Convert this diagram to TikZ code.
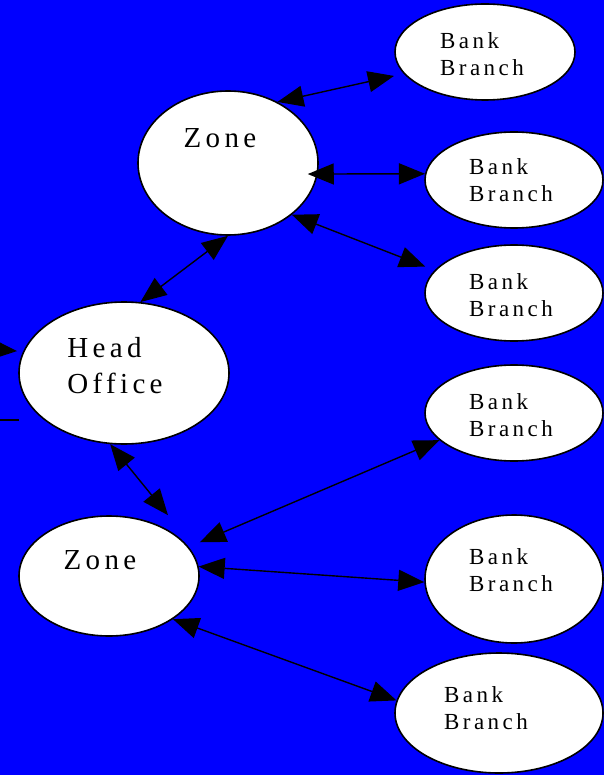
\documentclass[tikz,border=0pt]{standalone}
\usepackage{fontspec}
\usepackage{tikz}
\usetikzlibrary{shapes.geometric}
\usetikzlibrary{arrows.meta}
\newfontfamily\sitefont[LetterSpace=15]{Liberation Serif}
\tikzset{
  site/.style={ellipse, draw=black, fill=white, line width=1.6pt, inner sep=0pt},
  bigtext/.style={font=\sitefont\fontsize{29}{36}\selectfont, align=left, text=black},
  smalltext/.style={font=\sitefont\fontsize{23}{27}\selectfont, align=left, text=black},
  link/.style={{Triangle[length=26pt,width=21pt]}-{Triangle[length=26pt,width=21pt]}, line width=1.4pt},
  feed/.style={-{Triangle[length=26pt,width=21pt]}, line width=1.4pt},
}

\begin{document}
\begin{tikzpicture}[x=1pt, y=-1pt]
      \useasboundingbox (0,0) rectangle (604,775);
      \fill[blue] (0,0) rectangle (604,775);

      \node[site, minimum width=180, minimum height=144,
        label={[bigtext, xshift=-8pt, yshift=25pt]center:Zone}] (z1) at (228,163) {};
      \node[site, minimum width=210, minimum height=142,
        label={[bigtext, xshift=-9pt, yshift=7pt]center:{Head\\Office}}] (ho) at (124,373) {};
      \node[site, minimum width=180, minimum height=120,
        label={[bigtext, xshift=-9pt, yshift=16pt]center:Zone}] (z2) at (109,576) {};

      \node[site, minimum width=180, minimum height=96,
        label={[smalltext, xshift=-3pt, yshift=-2pt]center:{Bank\\Branch}}] (b1) at (485,52) {};
      \node[site, minimum width=178, minimum height=96,
        label={[smalltext, xshift=-3pt]center:{Bank\\Branch}}] (b2) at (514,180) {};
      \node[site, minimum width=178, minimum height=96,
        label={[smalltext, xshift=-3pt, yshift=-2pt]center:{Bank\\Branch}}] (b3) at (514,293) {};
      \node[site, minimum width=178, minimum height=96,
        label={[smalltext, xshift=-3pt, yshift=-2pt]center:{Bank\\Branch}}] (b4) at (514,413) {};
      \node[site, minimum width=178, minimum height=128,
        label={[smalltext, xshift=-3pt, yshift=9pt]center:{Bank\\Branch}}] (b5) at (514,579) {};
      \node[site, minimum width=208, minimum height=120,
        label={[smalltext, xshift=-13pt, yshift=5pt]center:{Bank\\Branch}}] (b6) at (499,713) {};

      \coordinate (in) at (-10,349);
      \coordinate (stub1) at (-5,420);
      \coordinate (stub2) at (19,420);

      % upper zone
      \draw[link, shorten >=10pt] (z1.51) -- (b1.195);
      \draw[link, shorten <=-10pt] (z1.353) -- (b2.176);
      \draw[link, shorten >=10pt] (z1.321) -- (b3.164);
      \draw[link] (z1.south) -- (ho.77);

      % lower zone
      \draw[link] (ho.259) -- ([xshift=59pt]z2.north);
      \draw[link, shorten <=12pt] (z2.20) -- (b4.200);
      \draw[link] (z2.6) -- (b5.182);
      \draw[link] (z2.326) -- (b6.173);

      % left edge
      \draw[feed, shorten >=6pt] (in) -- (ho.168);
      \draw[line width=1.4pt] (stub1) -- (stub2);
\end{tikzpicture}
\end{document}
